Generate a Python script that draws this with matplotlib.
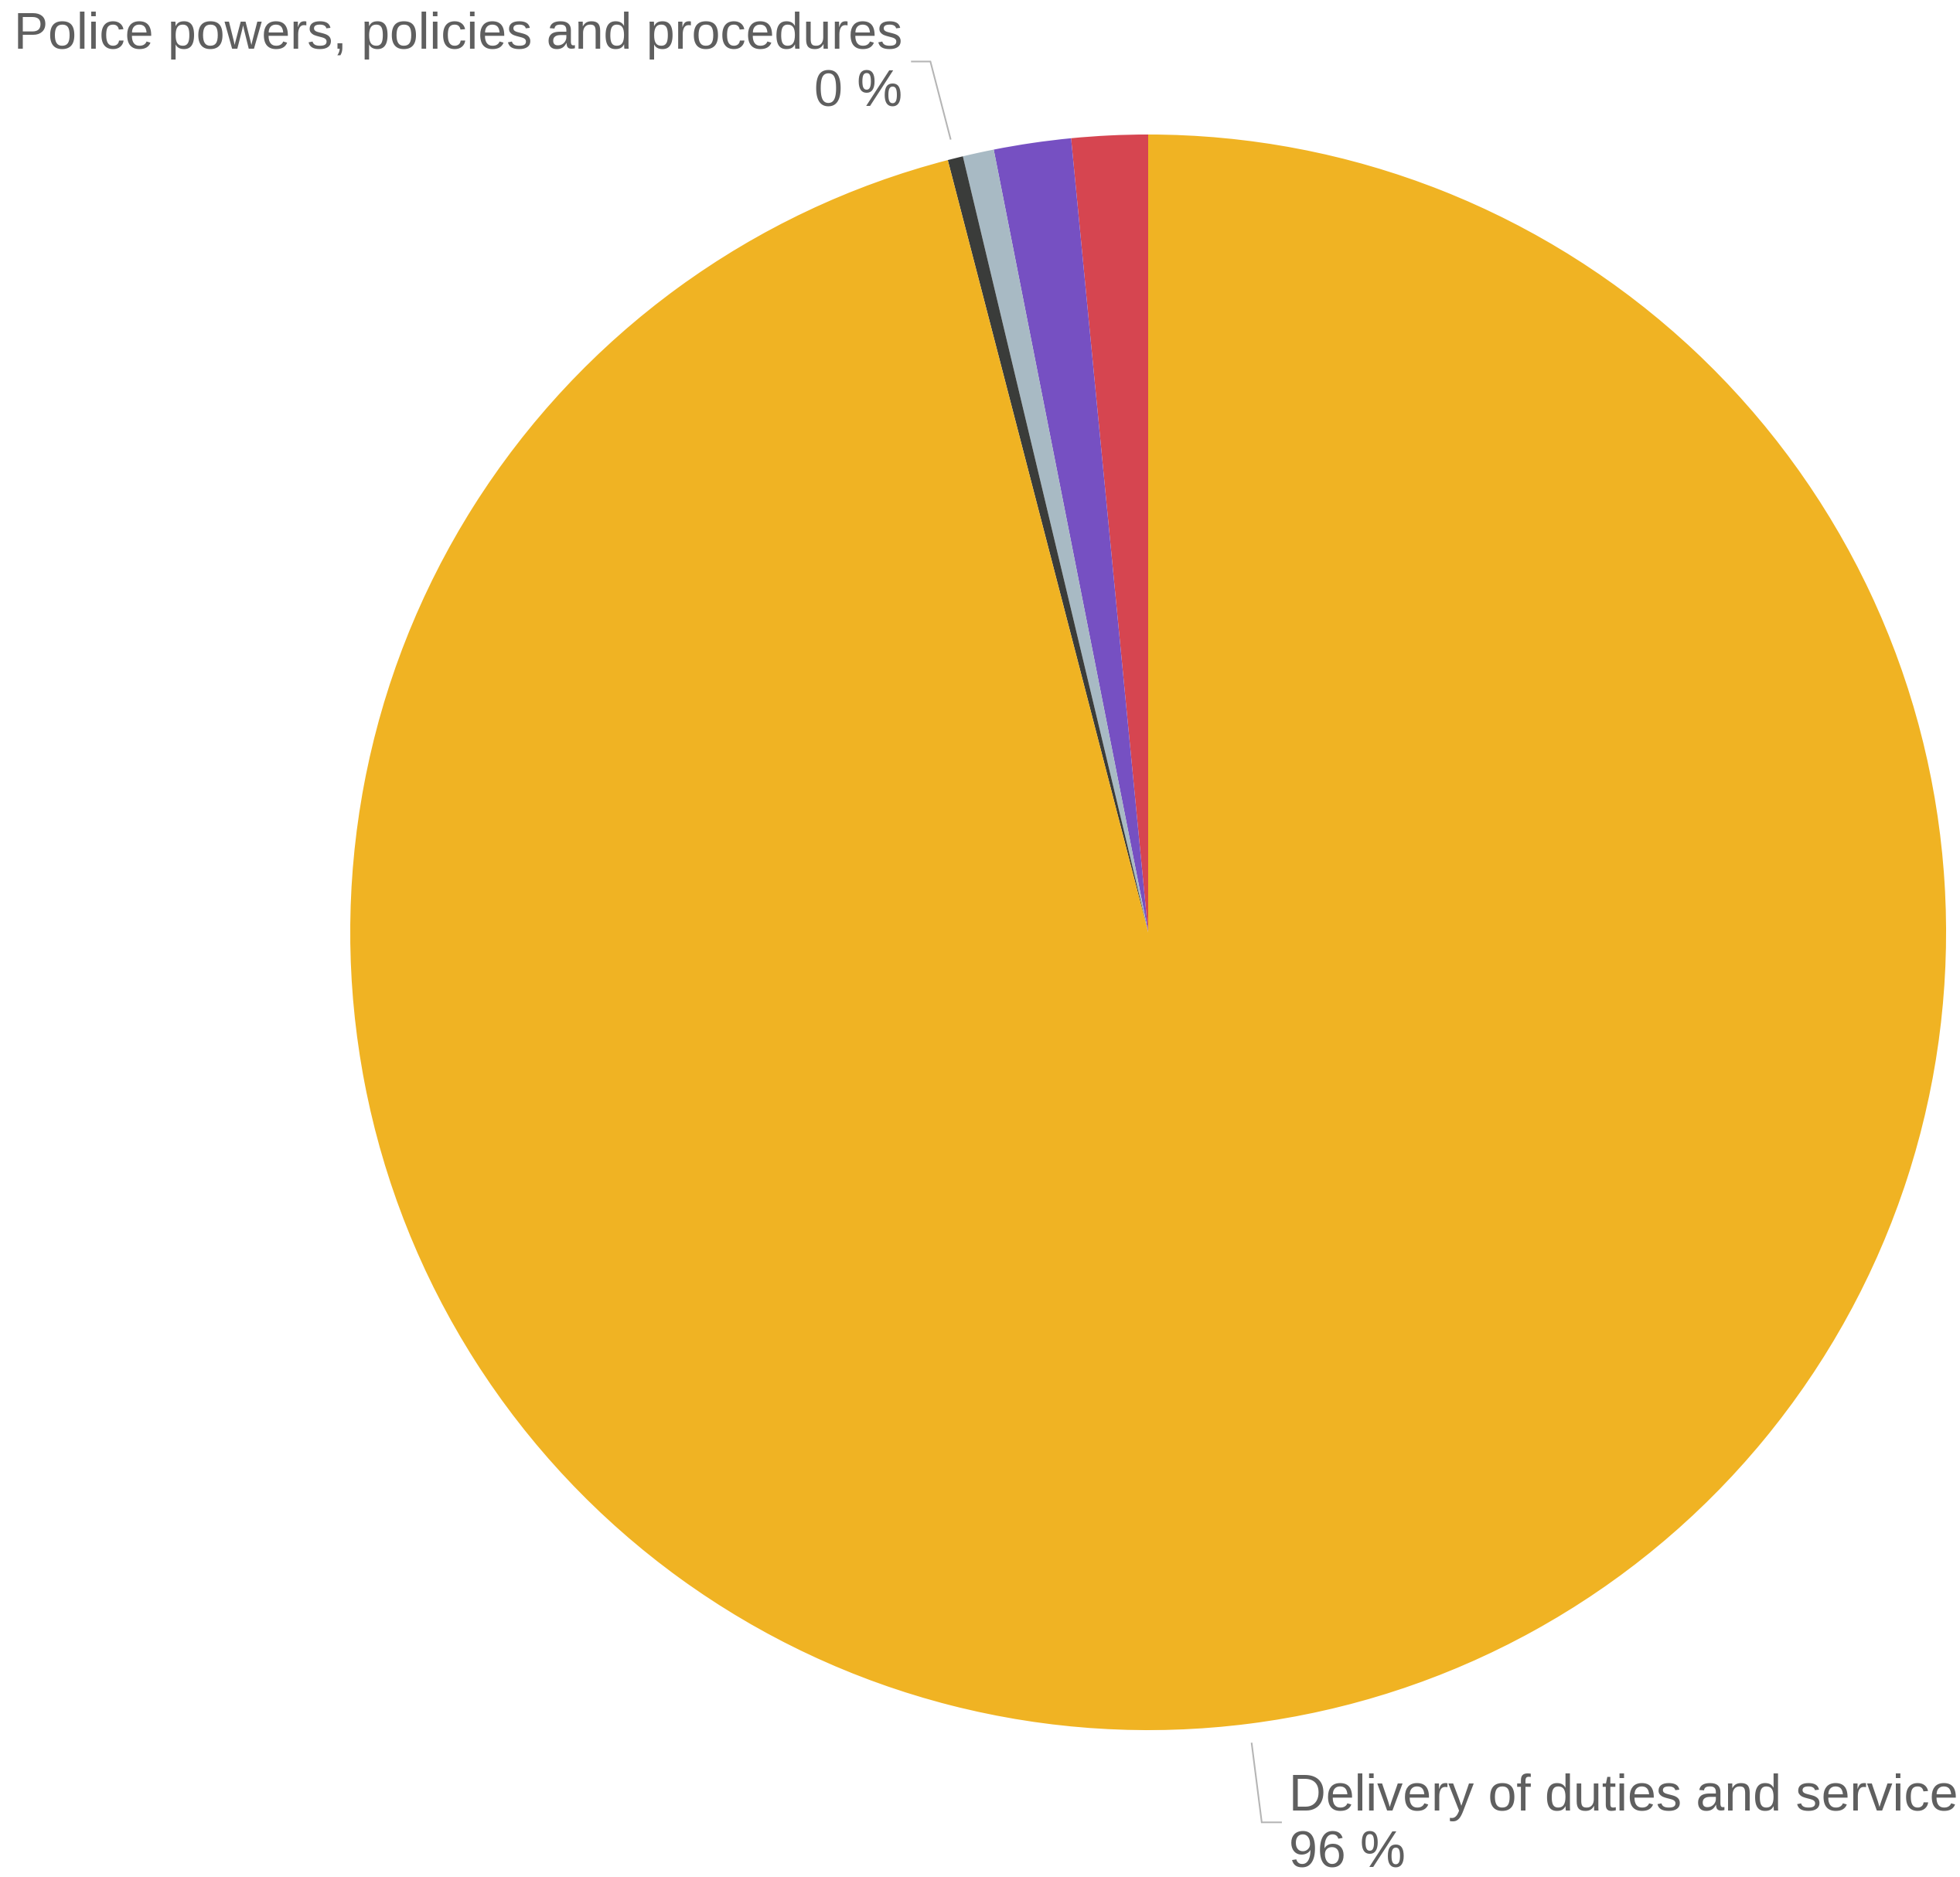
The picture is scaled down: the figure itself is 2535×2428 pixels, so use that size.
import numpy as np
import matplotlib
matplotlib.use("Agg")
import matplotlib.pyplot as plt

# ---- data (percent shares; order counter-clockwise from 12 o'clock)
categories = ["Category A", "Category B", "Category C",
              "Police powers, policies and procedures",
              "Delivery of duties and service"]
values = [1.54, 1.56, 0.63, 0.31, 95.96]
colors = ["#D64550", "#7650C2", "#A8BAC4", "#3A3C3A", "#F0B323"]
shown = [False, False, False, True, True]

W, H = 2535, 2428
fig = plt.figure(figsize=(W / 100, H / 100), dpi=100)
ax = fig.add_axes([0, 0, 1, 1])

cx, cy, R = 1485, H - 1206, 1032
wedges, _ = ax.pie(values, colors=colors, startangle=90, counterclock=True,
                   center=(cx, cy), radius=R, frame=True,
                   wedgeprops=dict(linewidth=0))
ax.set_xlim(0, W)
ax.set_ylim(0, H)
ax.set_aspect("equal")
ax.axis("off")

txt_color = "#5F5F5F"
line_color = "#B5B5B5"
font = "Liberation Sans"

# fit font size so the top label spans the same width as in the reference
renderer = fig.canvas.get_renderer()
probe = ax.text(0, 0, categories[3], fontsize=49, family=font)
wpx = probe.get_window_extent(renderer).width
probe.remove()
fs = 49 * 1150 / wpx

total = sum(values)
for w, name, v, s in zip(wedges, categories, values, shown):
    if not s:
        continue
    mid = np.deg2rad((w.theta1 + w.theta2) / 2)
    ax_x = cx + 1.025 * R * np.cos(mid)
    ax_y = cy + 1.025 * R * np.sin(mid)
    pct = f"{round(v / total * 100):.0f} %"
    if ax_y > cy:  # top label, text to the left
        ex, ey = ax_x - 26, ax_y + 100
        hx = ex - 24
        ax.plot([ax_x, ex, hx], [ax_y, ey, ey], color=line_color, lw=1.5,
                solid_joinstyle="miter")
        tx = hx - 12
        ax.text(tx, H - 63, name, ha="right", va="baseline", fontsize=fs,
                color=txt_color, family=font)
        ax.text(tx, H - 137, pct, ha="right", va="baseline", fontsize=fs,
                color=txt_color, family=font)
    else:  # bottom label, text to the right
        ex, ey = ax_x + 13, ax_y - 102
        hx = ex + 25
        ax.plot([ax_x, ex, hx], [ax_y, ey, ey], color=line_color, lw=1.5,
                solid_joinstyle="miter")
        tx = hx + 10
        ax.text(tx, H - 2342, name, ha="left", va="baseline", fontsize=fs,
                color=txt_color, family=font)
        ax.text(tx, H - 2415, pct, ha="left", va="baseline", fontsize=fs,
                color=txt_color, family=font)

fig.savefig("out.png", dpi=100, facecolor="white")
